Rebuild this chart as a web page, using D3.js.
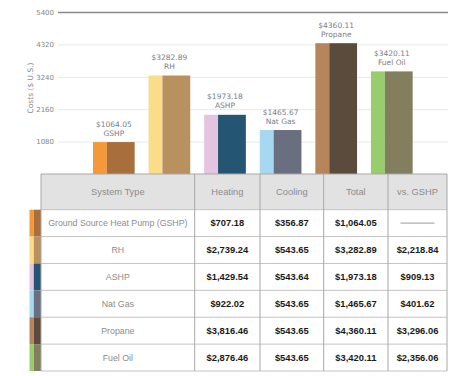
<!DOCTYPE html>
<html>
<head>
<meta charset="utf-8">
<script src="https://cdn.jsdelivr.net/npm/d3@7"></script>
<style>
  body { margin: 0; background: #fff; }
  svg { display: block; }
</style>
</head>
<body>
<script>
// chart values
const categories = ["GSHP", "RH", "ASHP", "Nat Gas", "Propane", "Fuel Oil"];
const systemNames = ["Ground Source Heat Pump (GSHP)", "RH", "ASHP", "Nat Gas", "Propane", "Fuel Oil"];
const heating = [707.18, 2739.24, 1429.54, 922.02, 3816.46, 2876.46];
const cooling = [356.87, 543.65, 543.64, 543.65, 543.65, 543.65];
const totals = [1064.05, 3282.89, 1973.18, 1465.67, 4360.11, 3420.11];
const vsGshp = [null, 2218.84, 909.13, 401.62, 3296.06, 2356.06];
const yTicks = [1080, 2160, 3240, 4320, 5400];
const headers = ["System Type", "Heating", "Cooling", "Total", "vs. GSHP"];

const lightColors = ["#f4993a", "#fbdc88", "#e4c4df", "#a6d8f1", "#b6855b", "#98cc6c"];
const darkColors = ["#a86e3b", "#b8915f", "#245573", "#6a6f80", "#5b4b3d", "#827e5e"];

const W = 474, H = 376;
const svg = d3.select("body").append("svg")
    .attr("width", W)
    .attr("height", H);

// Scales
const yScale = d3.scaleLinear()
    .domain([0, 5400])
    .range([174, 12]);

const xScale = d3.scaleBand()
    .domain(categories)
    .range([86, 419.6])
    .paddingInner(0.25)
    .paddingOuter(0.125);

// y axis with gridlines
const gridLeft = 58, gridRight = 448;
const yAxis = svg.append("g")
    .attr("transform", `translate(${gridLeft},0)`)
    .call(d3.axisLeft(yScale)
        .tickValues(yTicks)
        .tickFormat(d3.format("d"))
        .tickSize(-(gridRight - gridLeft))
        .tickPadding(4));
yAxis.select(".domain").remove();
yAxis.selectAll(".tick line")
    .attr("stroke", d => d === 5400 ? "#8a8a8a" : "#e8e8e8")
    .attr("stroke-width", d => d === 5400 ? 1.5 : 1);
yAxis.selectAll(".tick text")
    .attr("fill", "#858585")
    .attr("font-family", "DejaVu Sans")
    .attr("font-size", "7px");

// axis title
svg.append("text")
    .attr("transform", "translate(33,88) rotate(-90)")
    .attr("text-anchor", "middle")
    .attr("fill", "#8a8a8a")
    .attr("font-family", "DejaVu Sans")
    .attr("font-size", "7.5px")
    .text("Costs ($ U.S.)");

// bars: narrow light part + wide dark part
const bw = xScale.bandwidth();
const bars = svg.append("g");
categories.forEach((c, i) => {
    const x0 = xScale(c);
    bars.append("rect")
        .attr("x", x0)
        .attr("y", yScale(totals[i]))
        .attr("width", bw / 3)
        .attr("height", yScale(0) - yScale(totals[i]))
        .attr("fill", lightColors[i]);
    bars.append("rect")
        .attr("x", x0 + bw / 3)
        .attr("y", yScale(totals[i]))
        .attr("width", bw * 2 / 3)
        .attr("height", yScale(0) - yScale(totals[i]))
        .attr("fill", darkColors[i]);
    const lbl = svg.append("text")
        .attr("text-anchor", "middle")
        .attr("fill", "#7b8087")
        .attr("font-family", "DejaVu Sans")
        .attr("font-size", "7.5px");
    lbl.append("tspan")
        .attr("x", x0 + bw / 2)
        .attr("y", yScale(totals[i]) - 15.5)
        .text("$" + totals[i].toFixed(2));
    lbl.append("tspan")
        .attr("x", x0 + bw / 2)
        .attr("y", yScale(totals[i]) - 6.5)
        .text(c);
});

// table
const money = d3.format("$,.2f");
const tableTop = 174, headerBottom = 209.7, tableBottom = 371;
const colWidths = [153.7, 65.3, 63.7, 64.3, 59];
const colX = [41];
colWidths.forEach((w, i) => colX.push(colX[i] + w));
const tableLeft = colX[0], tableRight = colX[colX.length - 1];

const rowScale = d3.scaleBand()
    .domain(categories)
    .range([headerBottom, tableBottom]);

const table = svg.append("g");
table.append("rect")
    .attr("x", tableLeft)
    .attr("y", tableTop)
    .attr("width", tableRight - tableLeft)
    .attr("height", headerBottom - tableTop)
    .attr("fill", "#e2e2e2");

headers.forEach((h, j) => {
    table.append("text")
        .attr("x", (colX[j] + colX[j + 1]) / 2)
        .attr("y", (tableTop + headerBottom) / 2)
        .attr("dy", "0.35em")
        .attr("text-anchor", "middle")
        .attr("fill", "#8c8c8c")
        .attr("font-family", "Liberation Sans, Arial")
        .attr("font-size", "9.3px")
        .text(h);
});

categories.forEach((c, i) => {
    const y0 = rowScale(c), rh = rowScale.bandwidth();
    const cy = y0 + rh / 2;
    // color strip on the left
    table.append("rect")
        .attr("x", 29.5).attr("y", y0)
        .attr("width", 4.3).attr("height", rh)
        .attr("fill", lightColors[i]);
    table.append("rect")
        .attr("x", 33.8).attr("y", y0)
        .attr("width", tableLeft - 33.8).attr("height", rh)
        .attr("fill", darkColors[i]);

    table.append("text")
        .attr("x", (colX[0] + colX[1]) / 2)
        .attr("y", cy)
        .attr("dy", "0.35em")
        .attr("text-anchor", "middle")
        .attr("fill", "#8c8c8c")
        .attr("font-family", "Liberation Sans, Arial")
        .attr("font-size", "8.8px")
        .text(systemNames[i]);

    const vals = [heating[i], cooling[i], totals[i], vsGshp[i]];
    vals.forEach((v, j) => {
        const xm = (colX[j + 1] + colX[j + 2]) / 2;
        if (v === null) {
            table.append("line")
                .attr("x1", xm - 17).attr("x2", xm + 17)
                .attr("y1", cy).attr("y2", cy)
                .attr("stroke", "#b0b0b0")
                .attr("stroke-width", 1.2);
        } else {
            table.append("text")
                .attr("x", xm)
                .attr("y", cy)
                .attr("dy", "0.35em")
                .attr("text-anchor", "middle")
                .attr("fill", "#1a1a1a")
                .attr("font-family", "Liberation Sans, Arial")
                .attr("font-weight", "bold")
                .attr("font-size", "9.4px")
                .text(money(v));
        }
    });

    table.append("line")
        .attr("x1", tableLeft).attr("x2", tableRight)
        .attr("y1", y0 + rh).attr("y2", y0 + rh)
        .attr("stroke", "#c4c4c4");
});

// header lines and column separators
table.append("line")
    .attr("x1", tableLeft).attr("x2", tableRight)
    .attr("y1", headerBottom).attr("y2", headerBottom)
    .attr("stroke", "#c4c4c4");
table.append("line")
    .attr("x1", tableLeft).attr("x2", tableRight)
    .attr("y1", tableTop).attr("y2", tableTop)
    .attr("stroke", "#a8a8a8");
colX.forEach(x => {
    table.append("line")
        .attr("x1", x).attr("x2", x)
        .attr("y1", tableTop).attr("y2", tableBottom)
        .attr("stroke", "#a8a8a8");
});
</script>
</body>
</html>
